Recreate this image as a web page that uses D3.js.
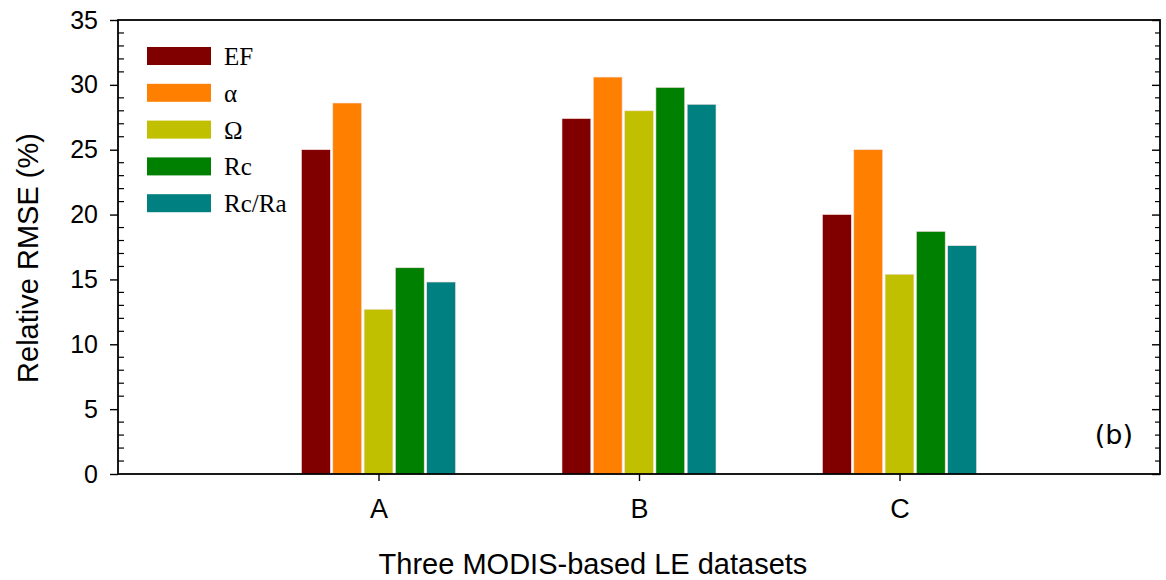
<!DOCTYPE html>
<html>
<head>
<meta charset="utf-8">
<script src="https://cdn.jsdelivr.net/npm/d3@7"></script>
<style>
  body { margin: 0; background: #fff; }
  svg { display: block; }
</style>
</head>
<body>
<script>
// datasets on the x axis and the five error sources
var datasets = ["A", "B", "C"];
var seriesNames = ["EF", "\u03B1", "\u03A9", "Rc", "Rc/Ra"];
var seriesColors = ["#800000", "#ff8000", "#c0c000", "#008000", "#008080"];

// relative RMSE (%) per series, one value per dataset A, B, C
var efValues = [25.0, 27.4, 20.0];
var alphaValues = [28.6, 30.6, 25.0];
var omegaValues = [12.7, 28.0, 15.4];
var rcValues = [15.9, 29.8, 18.7];
var rcraValues = [14.8, 28.5, 17.6];

var yTicks = [0, 5, 10, 15, 20, 25, 30, 35];

var allSeries = [efValues, alphaValues, omegaValues, rcValues, rcraValues];

var w = 1166;
var h = 580;
var pLeft = 118, pRight = 1160, pTop = 20, pBottom = 474;

var svg = d3.select("body")
            .append("svg")
            .attr("width", w)
            .attr("height", h);

var x = d3.scalePoint()
          .domain(datasets)
          .range([pLeft, pRight])
          .padding(1);

var inner = d3.scaleBand()
              .domain(seriesNames)
              .range([-77, 77])
              .paddingInner(0.08)
              .paddingOuter(0);

var y = d3.scaleLinear()
          .domain([0, 35])
          .range([pBottom, pTop]);

// bars
var rows = [];
datasets.forEach(function(ds, i) {
    seriesNames.forEach(function(s, j) {
        rows.push({ ds: ds, s: s, v: allSeries[j][i], c: seriesColors[j] });
    });
});

svg.append("g")
   .selectAll("rect")
   .data(rows)
   .enter()
   .append("rect")
   .attr("x", function(d) { return x(d.ds) + inner(d.s); })
   .attr("y", function(d) { return y(d.v); })
   .attr("width", inner.bandwidth())
   .attr("height", function(d) { return y(0) - y(d.v); })
   .attr("fill", function(d) { return d.c; })
   .attr("stroke", "#f4dcdc")
   .attr("stroke-width", 0.6);

// minor ticks every 1 unit
var minors = d3.range(0, 36).filter(function(d) { return d % 5 !== 0; });

// left axis: major ticks outward, minor ticks inward
var leftAxis = svg.append("g")
   .attr("transform", "translate(" + pLeft + ",0)")
   .call(d3.axisLeft(y).tickValues(yTicks).tickSize(8).tickPadding(12));
leftAxis.select(".domain").remove();
leftAxis.selectAll("text")
   .attr("font-family", "Liberation Sans, Arial, sans-serif")
   .attr("font-size", "25px")
   .attr("fill", "#000");

svg.append("g")
   .selectAll("line")
   .data(minors)
   .enter()
   .append("line")
   .attr("x1", pLeft).attr("x2", pLeft + 6)
   .attr("y1", function(d) { return y(d); })
   .attr("y2", function(d) { return y(d); })
   .attr("stroke", "#000").attr("stroke-width", 1.2);

// right axis: all ticks inward
var rightAxis = svg.append("g")
   .attr("transform", "translate(" + pRight + ",0)")
   .call(d3.axisLeft(y).tickValues(yTicks).tickSize(8).tickFormat(""));
rightAxis.select(".domain").remove();

svg.append("g")
   .selectAll("line")
   .data(minors)
   .enter()
   .append("line")
   .attr("x1", pRight - 5).attr("x2", pRight)
   .attr("y1", function(d) { return y(d); })
   .attr("y2", function(d) { return y(d); })
   .attr("stroke", "#000").attr("stroke-width", 1.2);

// bottom axis
var bottomAxis = svg.append("g")
   .attr("transform", "translate(0," + pBottom + ")")
   .call(d3.axisBottom(x).tickSize(7).tickPadding(18));
bottomAxis.select(".domain").remove();
bottomAxis.selectAll("text")
   .attr("font-family", "Liberation Sans, Arial, sans-serif")
   .attr("font-size", "27px")
   .attr("fill", "#000");

svg.selectAll(".tick line")
   .attr("stroke", "#000")
   .attr("stroke-width", 1.4);

// frame
svg.append("rect")
   .attr("x", pLeft).attr("y", pTop)
   .attr("width", pRight - pLeft).attr("height", pBottom - pTop)
   .attr("fill", "none")
   .attr("stroke", "#000")
   .attr("stroke-width", 1.8);

// axis titles
svg.append("text")
   .attr("x", 593)
   .attr("y", 574)
   .attr("text-anchor", "middle")
   .attr("font-family", "Liberation Sans, Arial, sans-serif")
   .attr("font-size", "29px")
   .text("Three MODIS-based LE datasets");

svg.append("text")
   .attr("transform", "translate(38,258) rotate(-90)")
   .attr("text-anchor", "middle")
   .attr("font-family", "Liberation Sans, Arial, sans-serif")
   .attr("font-size", "29px")
   .text("Relative RMSE (%)");

// panel label
svg.append("text")
   .attr("x", 1133)
   .attr("y", 444)
   .attr("text-anchor", "end")
   .attr("font-family", "DejaVu Sans, sans-serif")
   .attr("font-size", "27px")
   .text("(b)");

// legend
var legend = svg.append("g")
   .selectAll("g")
   .data(seriesNames)
   .enter()
   .append("g")
   .attr("transform", function(d, i) { return "translate(147," + (47 + i * 36.8) + ")"; });

legend.append("rect")
   .attr("width", 64)
   .attr("height", 18)
   .attr("fill", function(d, i) { return seriesColors[i]; });

legend.append("text")
   .attr("x", 77)
   .attr("y", 18)
   .attr("font-family", "Liberation Serif, Times New Roman, serif")
   .attr("font-size", "25px")
   .text(function(d) { return d; });
</script>
</body>
</html>
